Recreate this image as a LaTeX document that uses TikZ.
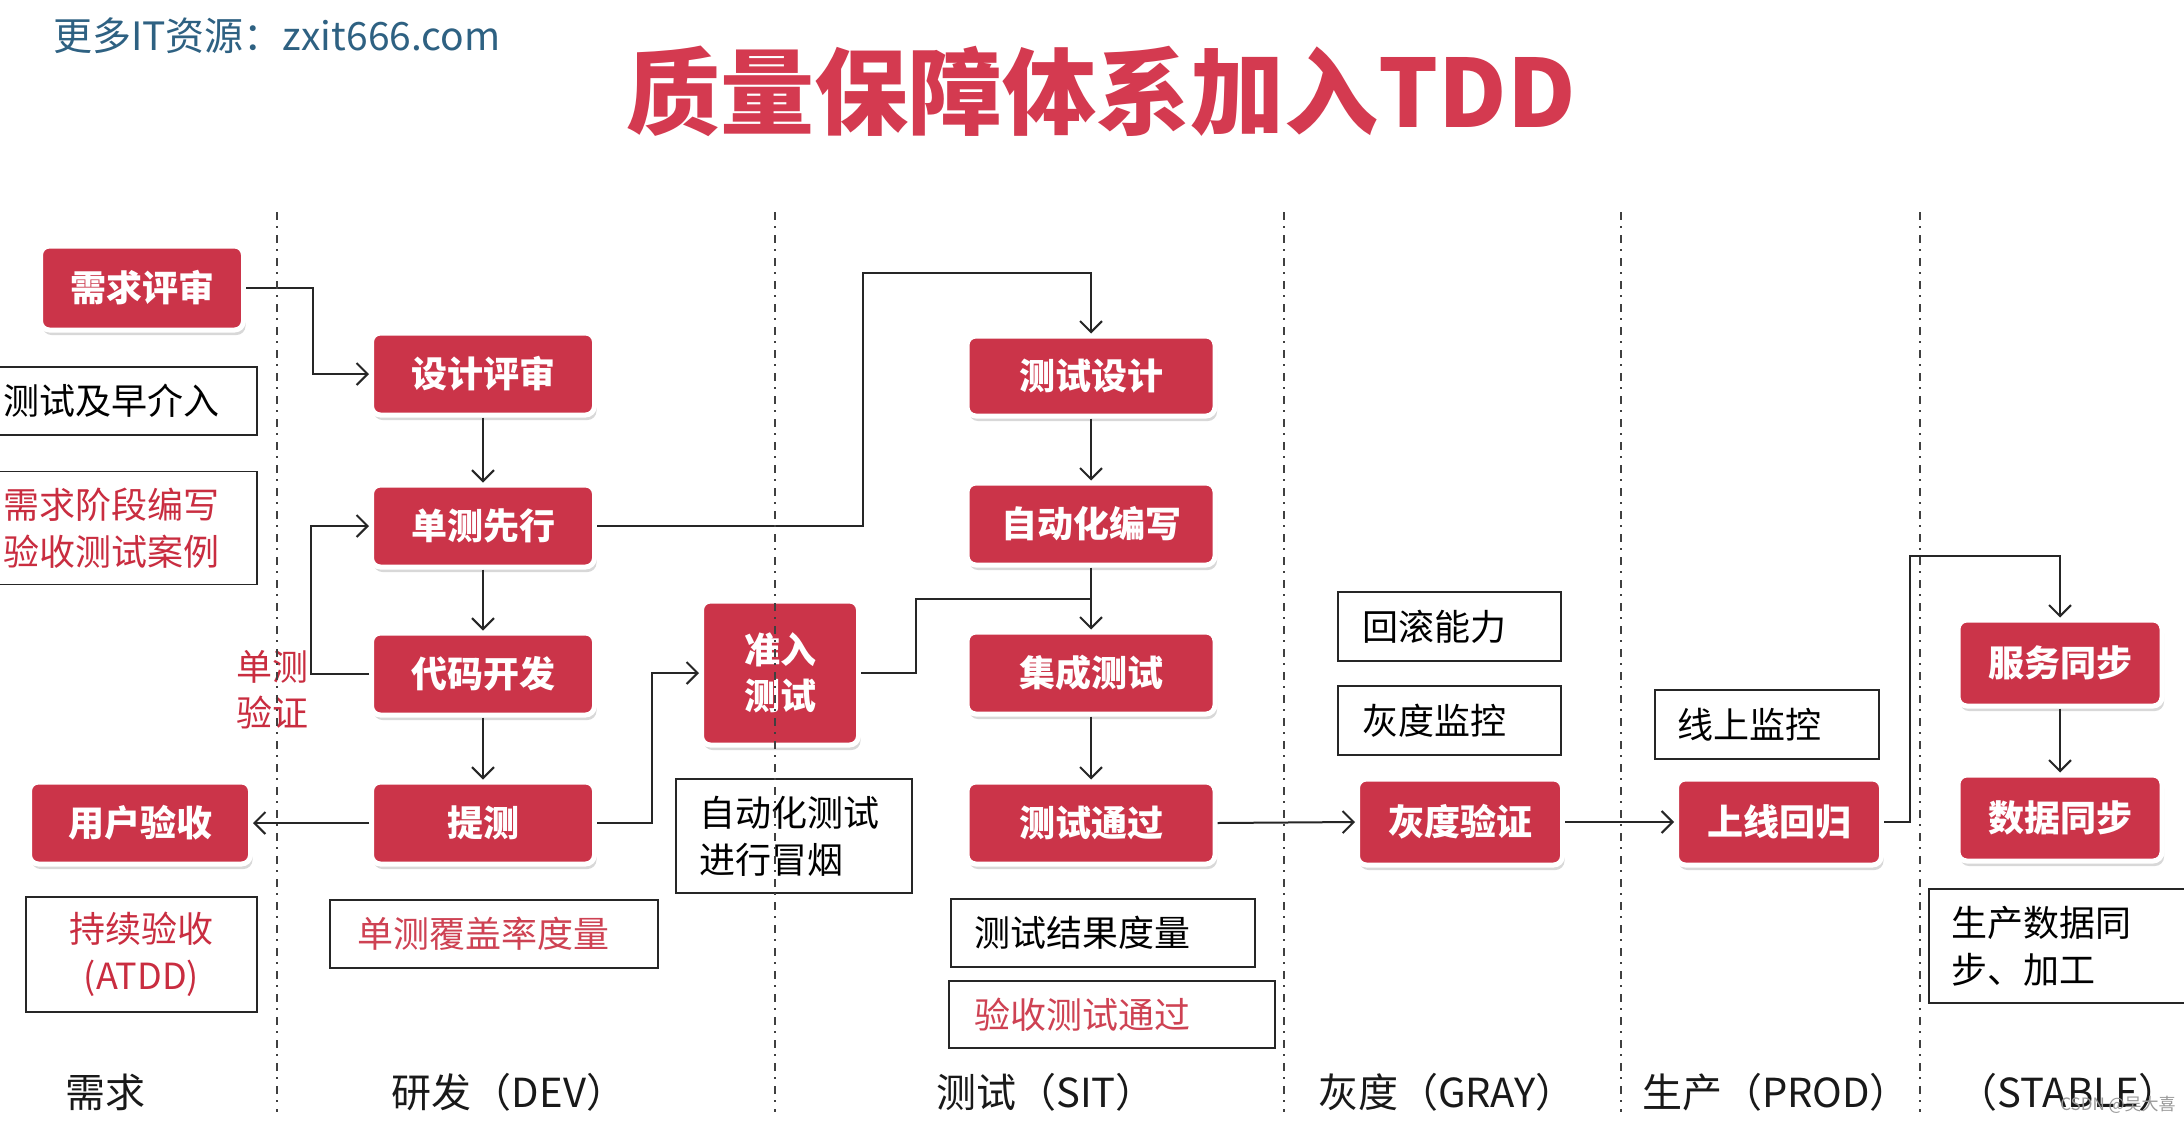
\documentclass[tikz,border=0pt]{standalone}
\usepackage{fontspec}
\setmainfont{Noto Sans CJK SC}
\usetikzlibrary{arrows.meta,shadows,calc}
\definecolor{boxred}{HTML}{CB3449}
\definecolor{titlered}{HTML}{D43A50}
\definecolor{notered}{HTML}{C92D40}
\definecolor{wmblue}{HTML}{2E6182}
\tikzset{
  rbox/.style={rounded corners=9pt, fill=boxred, draw=white, line width=5pt, text=white,
    font=\bfseries\fontsize{36}{46}\selectfont, align=center, inner sep=0pt,
    drop shadow={shadow xshift=2pt, shadow yshift=-5pt, opacity=0.25, fill=black!60}},
  anno/.style={draw=black!85, line width=1.8pt, fill=white, align=left,
    font=\fontsize{36}{47}\selectfont, inner ysep=0pt},
  arr/.style={draw=black!85, line width=2pt, -{Straight Barb[length=11pt,width=22pt]}},
  ln/.style={draw=black!85, line width=2pt},
  divider/.style={draw=black!75, line width=1.8pt, dash pattern=on 8pt off 6pt on 2pt off 7pt},
  collab/.style={font=\fontsize{40}{44}\selectfont, text=black!90, inner sep=0pt},
}
\begin{document}
\begin{tikzpicture}[x=1pt,y=-1pt]
\fill[white] (0,0) rectangle (2184,1122);
\useasboundingbox (0,0) rectangle (2184,1122);

% header
\node[anchor=west, text=wmblue, font=\fontsize{39}{42}\selectfont, inner sep=0pt] (wm) at (53,36) {更多IT资源：zxit666.com};
\node[text=titlered, font=\bfseries\fontsize{94}{100}\selectfont, inner sep=0pt] (title) at (1101,91) {质量保障体系加入TDD};

% red process boxes
\node[rbox, minimum width=203pt, minimum height=84pt] (xqps) at (142,288) {需求评审};
\node[rbox, minimum width=223pt, minimum height=82pt] (sjps) at (483,374) {设计评审};
\node[rbox, minimum width=223pt, minimum height=82pt] (dcxx) at (483,526) {单测先行};
\node[rbox, minimum width=223pt, minimum height=82pt] (dmkf) at (483,674) {代码开发};
\node[rbox, minimum width=223pt, minimum height=82pt] (tice) at (483,823) {提测};
\node[rbox, minimum width=221pt, minimum height=82pt] (yhys) at (140,823) {用户验收};
\node[rbox, minimum width=157pt, minimum height=144pt] (zrcs) at (780,673) {准入\\测试};
\node[rbox, minimum width=248pt, minimum height=80pt] (cssj) at (1091,376) {测试设计};
\node[rbox, minimum width=248pt, minimum height=82pt] (zdhbx) at (1091,524) {自动化编写};
\node[rbox, minimum width=248pt, minimum height=82pt] (jccs) at (1091,673) {集成测试};
\node[rbox, minimum width=248pt, minimum height=82pt] (cstg) at (1091,823) {测试通过};
\node[rbox, minimum width=205pt, minimum height=86pt] (hdyz) at (1460,822) {灰度验证};
\node[rbox, minimum width=205pt, minimum height=86pt] (sxhg) at (1779,822) {上线回归};
\node[rbox, minimum width=204pt, minimum height=86pt] (fwtb) at (2060,663) {服务同步};
\node[rbox, minimum width=204pt, minimum height=86pt] (sjtb) at (2060,818) {数据同步};

% annotation boxes
\node[anno, text width=246pt, inner xsep=8pt, minimum height=68pt] (a1) at (126,401) {测试及早介入};
\node[anno, text width=246pt, inner xsep=8pt, minimum height=113pt, text=notered] (a2) at (126,528) {需求阶段编写\\验收测试案例};
\node[anno, text width=211pt, inner xsep=10pt, minimum height=115pt, text=notered, align=center] (a3) at (141.5,954.5) {持续验收\\(ATDD)};
\node[anno, text width=274pt, inner xsep=27pt, minimum height=68pt, text=notered!90] (a4) at (494,934) {单测覆盖率度量};
\node[anno, text width=190pt, inner xsep=23pt, minimum height=114pt] (a5) at (794,836) {自动化测试\\进行冒烟};
\node[anno, text width=258pt, inner xsep=23pt, minimum height=68pt] (a6) at (1103,933) {测试结果度量};
\node[anno, text width=276pt, inner xsep=25pt, minimum height=67pt, text=notered!90] (a7) at (1112,1014.5) {验收测试通过};
\node[anno, text width=175pt, inner xsep=24pt, minimum height=69pt] (a8) at (1449.5,626.5) {回滚能力};
\node[anno, text width=175pt, inner xsep=24pt, minimum height=69pt] (a9) at (1449.5,720.5) {灰度监控};
\node[anno, text width=180pt, inner xsep=22pt, minimum height=69pt] (a10) at (1767,724.5) {线上监控};
\node[anno, text width=217pt, inner xsep=22pt, minimum height=114pt] (a11) at (2059.5,946) {生产数据同\\步、加工};

\node[text=notered, font=\fontsize{36}{46}\selectfont, align=center, inner sep=0pt] (dcyz) at (272,690) {单测\\验证};

% column labels
\node[collab] (c1) at (105,1092) {需求};
\node[collab] (c2) at (509,1092) {研发（DEV）};
\node[collab] (c3) at (1046,1092) {测试（SIT）};
\node[collab] (c4) at (1447,1092) {灰度（GRAY）};
\node[collab] (c5) at (1776,1092) {生产（PROD）};
\node[collab] (c6) at (2068,1092) {（STABLE）};
\node[text=black!40, font=\fontsize{17}{20}\selectfont, inner sep=0pt] (csdn) at (2118,1105) {CSDN @吴大喜};

% connectors
\draw[arr] (xqps.east) -- ++(67,0) |- (sjps.west);
\draw[arr] (sjps.south) -- (dcxx.north);
\draw[arr] (dcxx.south) -- (dmkf.north);
\draw[arr] (dmkf.south) -- (tice.north);
\draw[arr] (dmkf.west) -- ++(-58,0) |- (dcxx.west);
\draw[arr] (tice.west) -- (yhys.east);
\draw[arr] (tice.east) -- ++(55,0) |- (zrcs.west);
\draw[arr] (dcxx.east) -- ++(266,0) |- ([yshift=61pt]cssj.north) -- (cssj.north);
\draw[arr] (cssj.south) -- (zdhbx.north);
\draw[arr] (zdhbx.south) -- (jccs.north);
\coordinate (join) at ($(zdhbx.south)!0.5!(jccs.north)$);
\draw[ln] (zrcs.east) -- ++(55,0) |- (join);
\draw[arr] (jccs.south) -- (cstg.north);
\draw[arr] (cstg.east) -- (hdyz.west);
\draw[arr] (hdyz.east) -- (sxhg.west);
\draw[arr] (sxhg.east) -- ++(26,0) |- ([yshift=62pt]fwtb.north) -- (fwtb.north);
\draw[arr] (fwtb.south) -- (sjtb.north);

% phase dividers
\draw[divider] (277,212) -- (277,1112);
\draw[divider] (775,212) -- (775,1112);
\draw[divider] (1284,212) -- (1284,1112);
\draw[divider] (1621,212) -- (1621,1112);
\draw[divider] (1920,212) -- (1920,1112);
\end{tikzpicture}
\end{document}
